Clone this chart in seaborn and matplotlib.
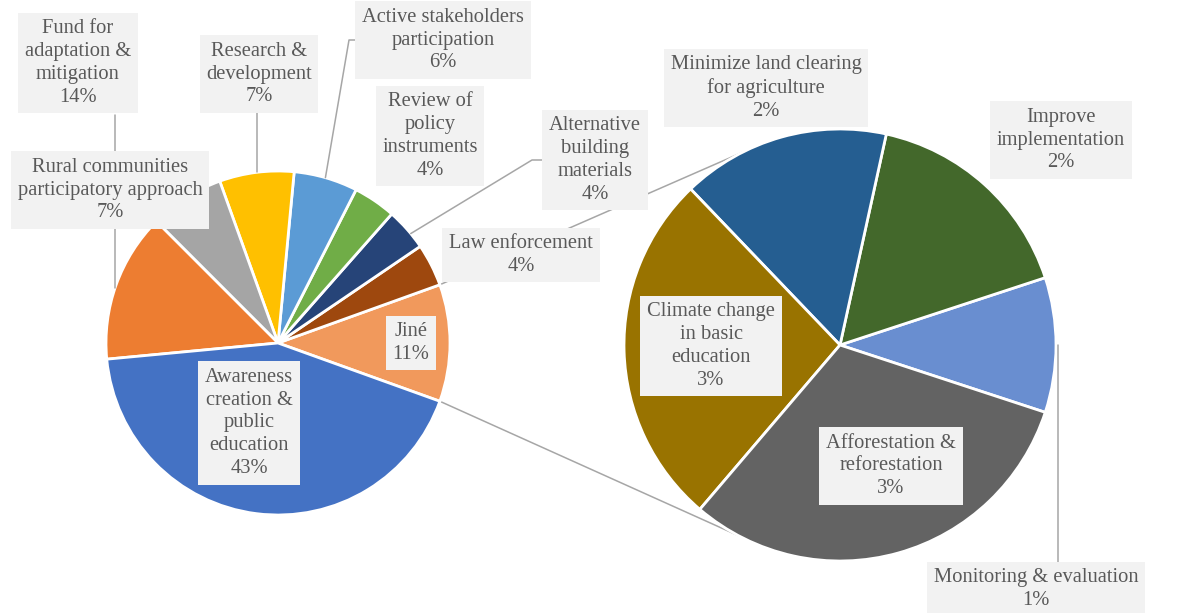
import numpy as np
import matplotlib
matplotlib.use("Agg")
import matplotlib.pyplot as plt
import seaborn as sns

sns.set_theme(style="white")
plt.rcParams['font.family'] = ['Liberation Serif', 'DejaVu Serif']

# main pie, counter-clockwise starting with the "Jiné" (other) slice
main_labels = ["Jiné", "Law enforcement", "Alternative\nbuilding\nmaterials",
               "Review of\npolicy\ninstruments", "Active stakeholders\nparticipation",
               "Research &\ndevelopment", "Rural communities\nparticipatory approach",
               "Fund for\nadaptation &\nmitigation",
               "Awareness\ncreation &\npublic\neducation"]
main_values = [11, 4, 4, 4, 6, 7, 7, 14, 43]
main_colors = ["#F1995C", "#9E480E", "#264478", "#70AD47", "#5B9BD5",
               "#FFC000", "#A5A5A5", "#ED7D31", "#4472C4"]

# secondary pie (breakdown of "Jiné"), counter-clockwise from the right
sub_labels = ["Monitoring & evaluation", "Improve\nimplementation",
              "Minimize land clearing\nfor agriculture",
              "Climate change\nin basic\neducation", "Afforestation &\nreforestation"]
sub_values = [1.1, 1.8, 1.7, 2.9, 3.4]
sub_colors = ["#698ED0", "#43682B", "#255E91", "#997300", "#636363"]

W, H = 1180, 613
main_c, main_r = (278, H - 343), 172
sub_c, sub_r = (840, H - 345), 216

# label box centres in picture pixels (x, y from top)
main_pos = [(411, 343), (521, 255), (595, 160), (430, 136), (443, 40),
            (259, 74), (110, 190), (78, 63), (249, 423)]
sub_pos = [(1036, 589), (1061, 140), (766, 88), (711, 346), (891, 466)]

fig = plt.figure(figsize=(W / 100, H / 100), dpi=100)
ax = fig.add_axes([0, 0, 1, 1])

wedge_style = dict(edgecolor="white", linewidth=2)
ax.pie(main_values, colors=main_colors, center=main_c, radius=main_r,
       startangle=-main_values[0] / sum(main_values) * 180, counterclock=True,
       wedgeprops=wedge_style, frame=True)
ax.pie(sub_values, colors=sub_colors, center=sub_c, radius=sub_r,
       startangle=-sub_values[0] / sum(sub_values) * 180, counterclock=True,
       wedgeprops=wedge_style, frame=True)


def edge(c, r, ang):
    a = np.deg2rad(ang)
    return c[0] + r * np.cos(a), c[1] + r * np.sin(a)


line_kw = dict(color="#A6A6A6", lw=1.1, zorder=0.5)

# connector lines between the "Jiné" slice and the secondary pie
half = main_values[0] / sum(main_values) * 180
for a_main, a_sub in [(half, 117), (-half, 242)]:
    p0 = edge(main_c, main_r, a_main)
    p1 = edge(sub_c, sub_r, a_sub)
    ax.plot([p0[0], p1[0]], [p0[1], p1[1]], **line_kw)

# leader lines: elbow points (picture pixels) then the pie edge point
leaders = [
    ([(115, 115)], main_c, main_r, 161.5),
    ([(257, 113)], main_c, main_r, 97),
    ([(357, 40), (349, 40)], main_c, main_r, 74),
    ([(542, 160), (532, 160)], main_c, main_r, 39.5),
    ([(1058, 562)], sub_c, sub_r, 0),
]
for pts, c, r, ang in leaders:
    xs = [p[0] for p in pts]
    ys = [H - p[1] for p in pts]
    ex, ey = edge(c, r, ang)
    if len(pts) == 1 and abs(pts[0][0] - ex) < 20:
        ex = pts[0][0]
    xs.append(ex)
    ys.append(ey)
    ax.plot(xs, ys, color="#A6A6A6", lw=1.1, zorder=3)

box = dict(boxstyle="square,pad=0.32", facecolor="#F2F2F2", edgecolor="none")
text_kw = dict(ha="center", va="center", fontsize=14.8, color="#595959",
               linespacing=1.27, bbox=box, zorder=5)

for lab, val, (x, y) in zip(main_labels, main_values, main_pos):
    ax.text(x, H - y, f"{lab}\n{val}%", **text_kw)

tot = sum(main_values) / sum(sub_values) * main_values[0] / sum(main_values)
for lab, val, (x, y) in zip(sub_labels, sub_values, sub_pos):
    ax.text(x, H - y, f"{lab}\n{round(val * tot)}%", **text_kw)

ax.set_xlim(0, W)
ax.set_ylim(0, H)
ax.set_aspect("equal")
ax.set_axis_off()

fig.savefig("out.png", dpi=100, facecolor="white")
